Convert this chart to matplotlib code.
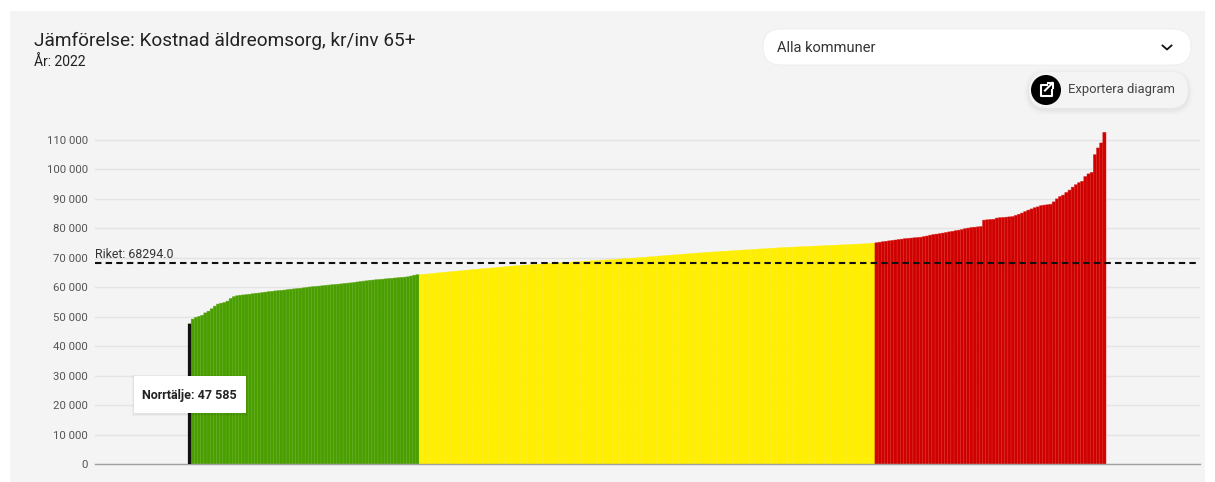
"""Jämförelse: kostnad äldreomsorg per kommun, återskapad med matplotlib."""
import matplotlib
matplotlib.use("Agg")
import matplotlib.pyplot as plt
from matplotlib.patches import Rectangle, FancyBboxPatch, Circle
import numpy as np

plt.rcParams["font.family"] = ["Roboto", "DejaVu Sans"]

TITLE = "Jämförelse: Kostnad äldreomsorg, kr/inv 65+"
SUBTITLE = "År: 2022"
DROPDOWN = "Alla kommuner"
EXPORT = "Exportera diagram"
TOOLTIP = "Norrtälje: 47 585"
RIKET = 68294.0

yticks = [0, 10000, 20000, 30000, 40000, 50000, 60000, 70000, 80000, 90000, 100000, 110000]
ytick_labels = ["0", "10 000", "20 000", "30 000", "40 000", "50 000", "60 000",
                "70 000", "80 000", "90 000", "100 000", "110 000"]

# kommuner sorterade på kostnad, uppskattat från bilden
green = [47585, 49200, 49800, 50100, 50500, 51300, 51900, 52700, 53600, 54300,
         54600, 54800, 55300, 56200, 56800, 57100, 57300, 57400, 57500, 57650,
         57800, 57950, 58050, 58200, 58350, 58500, 58600, 58750, 58850, 58950,
         59050, 59200, 59350, 59450, 59550, 59650, 59800, 59950, 60100, 60200,
         60300, 60400, 60500, 60650, 60750, 60850, 60950, 61050, 61150, 61300,
         61400, 61500, 61600, 61800, 61950, 62100, 62200, 62350, 62450, 62550,
         62650, 62750, 62850, 62950, 63050, 63150, 63250, 63350, 63450, 63550,
         63800, 64100, 64250]
yellow = [64300, 64400, 64500, 64600, 64700, 64850, 64950, 65050, 65150, 65250,
          65350, 65450, 65550, 65650, 65750, 65850, 65950, 66050, 66150, 66250,
          66350, 66400, 66500, 66600, 66700, 66800, 66900, 67000, 67100, 67200,
          67300, 67350, 67450, 67550, 67600, 67700, 67750, 67850, 67900, 68000,
          68050, 68150, 68200, 68250, 68350, 68400, 68450, 68550, 68600, 68650,
          68700, 68800, 68850, 68900, 69000, 69050, 69100, 69200, 69250, 69300,
          69400, 69450, 69550, 69600, 69700, 69750, 69800, 69900, 69950, 70050,
          70100, 70200, 70300, 70400, 70450, 70550, 70650, 70750, 70800, 70900,
          71000, 71100, 71150, 71250, 71350, 71400, 71500, 71600, 71650, 71750,
          71850, 71900, 71950, 72050, 72100, 72200, 72250, 72300, 72400, 72450,
          72500, 72600, 72650, 72700, 72800, 72850, 72900, 73000, 73050, 73100,
          73200, 73250, 73300, 73400, 73450, 73500, 73550, 73600, 73650, 73700,
          73750, 73800, 73850, 73900, 73950, 74000, 74050, 74100, 74150, 74200,
          74250, 74300, 74350, 74400, 74450, 74500, 74550, 74600, 74650, 74700,
          74750, 74850, 74900, 75000]
red = [75100, 75300, 75450, 75600, 75750, 75900, 76050, 76200, 76350, 76500,
       76600, 76700, 76800, 76900, 77000, 77200, 77400, 77700, 77900, 78050,
       78200, 78400, 78600, 78800, 79000, 79200, 79400, 79600, 79900, 80100,
       80300, 80400, 80500, 80600, 82800, 82900, 83000, 83100, 83500, 83600,
       83700, 83800, 83900, 84000, 84400, 84800, 85200, 85700, 86200, 86600,
       87000, 87300, 87700, 87900, 88000, 88200, 89000, 90000, 90800, 91300,
       92200, 93000, 94000, 94800, 95500, 96000, 97600, 98500, 99000, 105000,
       107300, 109000, 112600]

W, H = 1215, 482
fig = plt.figure(figsize=(W / 100, H / 100), dpi=100, facecolor="white")

# grå panel bakom allt
bg = fig.add_axes([0, 0, 1, 1], zorder=0)
bg.set_xlim(0, W)
bg.set_ylim(H, 0)
bg.axis("off")
bg.add_patch(Rectangle((10, 11), 1195, 471, fc="#f4f4f4", ec="none"))

# ---------- diagram ----------
L, R, T, B = 95, 1200, 125, 464
ax = fig.add_axes([L / W, 1 - B / H, (R - L) / W, (B - T) / H], zorder=1)
ax.patch.set_alpha(0)
bar_px = (1106 - 188) / 290
ax.set_xlim(-0.5 - (188 - L) / bar_px, 289.5 + (R - 1106) / bar_px)
ax.set_ylim(0, (B - T) / 324 * 110000)

x = np.arange(len(green) + len(yellow) + len(red))
n1 = len(green)
n2 = n1 + len(yellow)
# snap av, annars blir glappen mellan staplarna ojämna
bars = [
    ax.bar(x[:n1], green, 1.0, color="#4a9e00", edgecolor="#5fab1f", lw=0.35, zorder=2),
    ax.bar(x[n1:n2], yellow, 1.0, color="#ffee00", edgecolor="#ffee00", lw=0.2, zorder=2),
    ax.bar(x[n2:], red, 1.0, color="#cf0000", edgecolor="#da2a22", lw=0.35, zorder=2),
    ax.bar(x[0], green[0], 1.0, color="#111111", zorder=3),
]
for group in bars:
    for patch in group:
        patch.set_snap(False)

ax.axhline(RIKET, color="#111111", lw=1.5, dashes=(3.1, 2.0), zorder=4)
ax.text(0, (B - 254) / 324 * 110000, f"Riket: {RIKET}", transform=ax.get_yaxis_transform(),
        fontsize=8.9, color="#333333", va="center", ha="left", zorder=5)

ax.set_yticks(yticks, ytick_labels)
ax.set_xticks([])
ax.tick_params(axis="y", length=0, pad=5, labelsize=8.2, labelcolor="#555555")
ax.grid(axis="y", color="#e4e4e4", lw=1, zorder=1)
ax.set_axisbelow(True)
for side in ["top", "right", "left"]:
    ax.spines[side].set_visible(False)
ax.spines["bottom"].set_color("#a0a0a0")
ax.spines["bottom"].set_linewidth(1)

# ---------- rubriker, knappar, tooltip ----------
ui = fig.add_axes([0, 0, 1, 1], zorder=2)
ui.set_xlim(0, W)
ui.set_ylim(H, 0)
ui.axis("off")
ui.patch.set_alpha(0)

ui.text(34, 41, TITLE, fontsize=13.7, color="#222222", va="center", ha="left")
ui.text(34, 62, SUBTITLE, fontsize=10, color="#222222", va="center", ha="left")

# dropdown
ui.add_patch(FancyBboxPatch((763, 29), 428, 36, boxstyle="round,pad=0,rounding_size=18",
                            fc="white", ec="#ececec", lw=0.6))
ui.text(777, 48, DROPDOWN, fontsize=10.5, color="#333333", va="center", ha="left")
ui.plot([1162.5, 1167, 1171.5], [45.5, 49.5, 45.5], color="#111111", lw=1.3)

# exportknapp med skugga
for grow, alpha in [(5, 0.012), (3, 0.018), (1.5, 0.025)]:
    ui.add_patch(FancyBboxPatch((1029 - grow, 72 - grow + 2), 159 + 2 * grow, 36 + 2 * grow,
                                boxstyle=f"round,pad=0,rounding_size={18 + grow}",
                                fc="black", ec="none", alpha=alpha))
ui.add_patch(FancyBboxPatch((1029, 72), 159, 36, boxstyle="round,pad=0,rounding_size=18",
                            fc="#f4f4f4", ec="none"))
ui.add_patch(Circle((1046, 90), 15, fc="black", ec="none"))
ui.plot([1047, 1041, 1041, 1052, 1052], [84.5, 84.5, 96, 96, 90], color="white", lw=1.5)
ui.plot([1045, 1052.5], [90.5, 83], color="white", lw=1.5)
ui.plot([1048, 1053, 1053], [83, 83, 88], color="white", lw=1.5)
ui.text(1068, 90, EXPORT, fontsize=9.4, color="#444444", va="center", ha="left")

# tooltip
for grow, alpha in [(2, 0.03), (1, 0.04)]:
    ui.add_patch(Rectangle((134 - grow, 376 - grow + 1), 112 + 2 * grow, 37 + 2 * grow,
                           fc="black", ec="none", alpha=alpha))
ui.add_patch(Rectangle((134, 376), 112, 37, fc="white", ec="none"))
ui.text(142, 395, TOOLTIP, fontsize=9, fontweight="bold", color="#222222", va="center", ha="left")

fig.savefig("out.png", dpi=100)
